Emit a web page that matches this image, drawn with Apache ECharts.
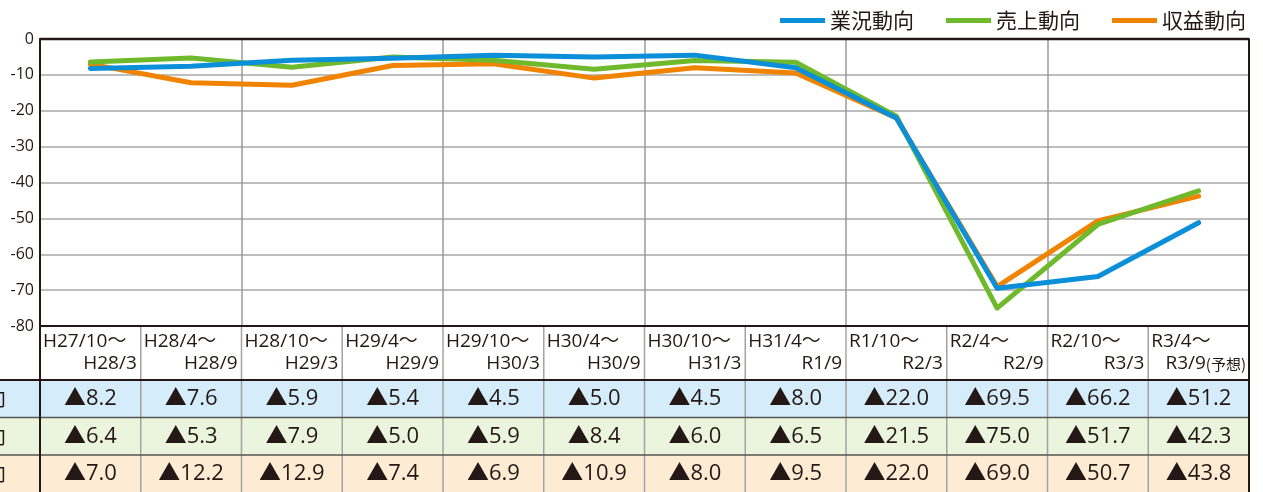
<!DOCTYPE html>
<html><head><meta charset="utf-8">
<script src="https://cdn.jsdelivr.net/npm/echarts@6/dist/echarts.min.js"></script>
<style>html,body{margin:0;padding:0;background:#fff}#c{width:1263px;height:492px}</style>
</head><body><div id="c"></div>
<script>
// ---- data ----
const periodStart = ['H27/10～','H28/4～','H28/10～','H29/4～','H29/10～','H30/4～','H30/10～','H31/4～','R1/10～','R2/4～','R2/10～','R3/4～'];
const periodEnd   = ['H28/3','H28/9','H29/3','H29/9','H30/3','H30/9','H31/3','R1/9','R2/3','R2/9','R3/3','R3/9'];
const forecastNote = ['', '', '', '', '', '', '', '', '', '', '', '(予想)'];
const seriesNames = ['業況動向','売上動向','収益動向'];
// values are declines (▲)
const gyokyo = [8.2, 7.6, 5.9, 5.4, 4.5, 5.0, 4.5, 8.0, 22.0, 69.5, 66.2, 51.2];
const uriage = [6.4, 5.3, 7.9, 5.0, 5.9, 8.4, 6.0, 6.5, 21.5, 75.0, 51.7, 42.3];
const shueki = [7.0, 12.2, 12.9, 7.4, 6.9, 10.9, 8.0, 9.5, 22.0, 69.0, 50.7, 43.8];
const yMin = -80, yMax = 0, yStep = 10;

// ---- style ----
const colors = ['#0a8fd8', '#6fba2c', '#f08300'];
const rowBg = ['#d5ecfa', '#ebf4dc', '#fdebd3'];
const ink = '#231815';
const FONT = '"Open Sans", "Noto Sans CJK JP", sans-serif';
const CJK = '"Noto Sans CJK JP", sans-serif';
const L = 40, R = 1249, T = 39, B = 326;
const HEAD_B = 380, ROW_H = 37.5;

const categories = periodStart.map((s, i) => s + periodEnd[i] + forecastNote[i]);
const allSeries = [gyokyo, uriage, shueki];

const chart = echarts.init(document.getElementById('c'), null, {renderer: 'canvas'});
const option = {
  animation: false,
  textStyle: {fontFamily: FONT},
  color: colors,
  legend: {
    data: seriesNames,
    right: 12, top: 5,
    icon: 'rect', itemWidth: 45, itemHeight: 5, itemGap: 32,
    textStyle: {fontSize: 21, color: ink, fontFamily: CJK}
  },
  grid: {left: L, top: T, width: R - L, height: B - T, containLabel: false},
  xAxis: {
    type: 'category', data: categories, boundaryGap: true,
    axisLine: {show: true, lineStyle: {color: ink, width: 2}},
    axisTick: {show: false}, axisLabel: {show: false},
    splitLine: {show: true, lineStyle: {color: '#9a9a9a', width: 1.5}}
  },
  yAxis: {
    type: 'value', min: yMin, max: yMax, interval: yStep,
    axisLine: {show: true, lineStyle: {color: ink, width: 2}},
    axisTick: {show: false},
    axisLabel: {color: ink, fontSize: 16, margin: 6, fontFamily: FONT},
    splitLine: {show: true, lineStyle: {color: '#bdbdbd', width: 2}}
  },
  series: [2, 1, 0].map(k => ({
    name: seriesNames[k], type: 'line', symbol: 'none', z: 3 + (2 - k),
    data: allSeries[k].map(v => -v),
    lineStyle: {width: 5, color: colors[k], cap: 'round', join: 'round'},
    itemStyle: {color: colors[k]}
  }))
};
chart.setOption(option);

// ---- table under the axis, positioned from the category axis ----
const n = categories.length;
const centers = categories.map((c, i) => chart.convertToPixel({xAxisIndex: 0}, i));
const colW = n > 1 ? centers[1] - centers[0] : (R - L);
const g = [];
const line = (x1, y1, x2, y2, stroke, w, z) => g.push({type: 'line', z: z || 10, shape: {x1, y1, x2, y2}, style: {stroke, lineWidth: w}});
rowBg.forEach((c, r) => g.push({type: 'rect', z: 1, shape: {x: 0, y: HEAD_B + r * ROW_H, width: R, height: ROW_H + (r === 2 ? 2 : 0)}, style: {fill: c}}));
for (let i = 1; i < n; i++) {
  const x = centers[i] - colW / 2;
  line(x, B, x, 492, '#a3a3a3', 1.5, 5);
}
line(0, HEAD_B, R, HEAD_B, ink, 2, 8);
line(0, HEAD_B + ROW_H, R, HEAD_B + ROW_H, '#555', 1.5, 8);
line(0, HEAD_B + 2 * ROW_H, R, HEAD_B + 2 * ROW_H, '#555', 1.5, 8);
line(L, T, R, T, ink, 2.5, 9);
line(L, T, L, 492, ink, 2, 9);
line(R, T, R, 492, ink, 2, 9);
line(L, B, R, B, ink, 2, 9);
for (let i = 0; i < n; i++) {
  const left = centers[i] - colW / 2, right = centers[i] + colW / 2;
  g.push({type: 'text', z: 12, style: {text: periodStart[i], x: left + 3, y: 342, align: 'left', verticalAlign: 'middle', fontSize: 19, fontFamily: FONT, fill: ink}});
  if (forecastNote[i]) {
    g.push({type: 'text', z: 12, style: {text: '{a|' + periodEnd[i] + '}{b|' + forecastNote[i] + '}', x: right - 3, y: 364, align: 'right', verticalAlign: 'middle', fill: ink,
      rich: {a: {fontSize: 19, fontFamily: FONT, fill: ink}, b: {fontSize: 15, fontFamily: CJK, fill: ink}}}});
  } else {
    g.push({type: 'text', z: 12, style: {text: periodEnd[i], x: right - 4, y: 364, align: 'right', verticalAlign: 'middle', fontSize: 19, fontFamily: FONT, fill: ink}});
  }
}
allSeries.forEach((arr, r) => {
  const cy = HEAD_B + r * ROW_H + ROW_H / 2;
  g.push({type: 'text', z: 12, style: {text: seriesNames[r], x: 6, y: cy, align: 'right', verticalAlign: 'middle', fontSize: 20, fontFamily: CJK, fill: ink}});
  arr.forEach((v, i) => {
    g.push({type: 'text', z: 12, style: {text: '▲' + v.toFixed(1), x: centers[i], y: cy, align: 'center', verticalAlign: 'middle', fontSize: 22, fontFamily: FONT, fill: ink}});
  });
});
chart.setOption({graphic: g});
</script>
</body></html>
